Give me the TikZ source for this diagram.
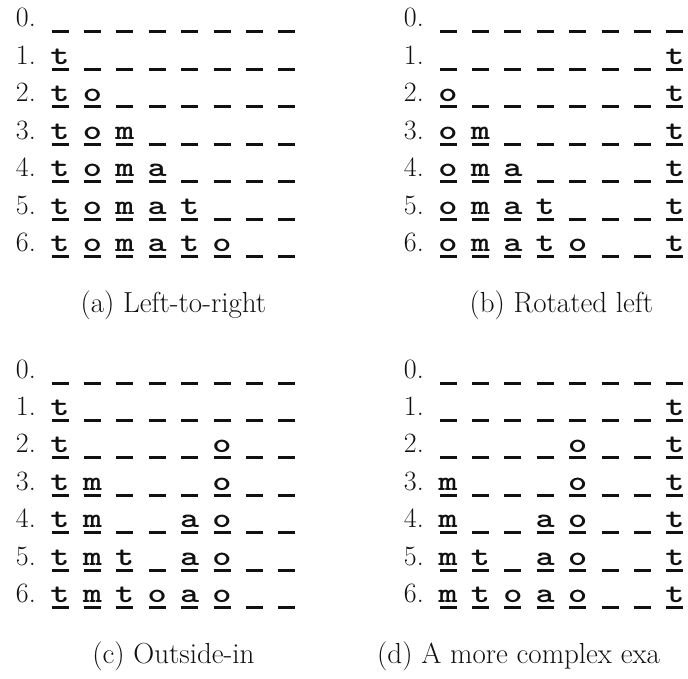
\documentclass[tikz,border=0pt]{standalone}
\usepackage{graphicx}
\usepackage{tikz}
\definecolor{ink}{HTML}{111111}
\tikzset{
  lbl/.style={anchor=base east, inner sep=0pt, font=\fontsize{28}{30}\selectfont, text=ink},
  ltr/.style={anchor=base, inner sep=0pt, font=\fontsize{28}{30}\selectfont\ttfamily\bfseries, text=ink},
  bar/.style={line width=3pt, draw=ink},
  subcap/.style={anchor=base, inner sep=0pt, font=\fontsize{29}{31}\selectfont, text=ink},
}
% #1 panel, #2 first slot centre, #3 bar height, #4 row number, #5 slots (- = empty)
\newcommand{\slotrow}[5]{%
  \node[lbl] (#1row#4) at (#2-24pt, #3+5pt) {#4.};
  \foreach \s [count=\i from 0] in {#5} {
    \draw[bar] (#2+\i*32.4pt-8.5pt, #3) -- ++(17pt,0);
    \if\s-\else\node[ltr] (#1s#4\i) at (#2+\i*32.4pt, #3+5pt) {\scalebox{1.3}[1]{\s}};\fi
  }
}

\begin{document}
\begin{tikzpicture}[x=1pt,y=1pt]
    \useasboundingbox (0,0) rectangle (688,-678);
    % (a) left-to-right
    \slotrow{a}{60pt}{-31.7pt}{0}{-,-,-,-,-,-,-,-}
    \slotrow{a}{60pt}{-69.2pt}{1}{t,-,-,-,-,-,-,-}
    \slotrow{a}{60pt}{-106.7pt}{2}{t,o,-,-,-,-,-,-}
    \slotrow{a}{60pt}{-144.2pt}{3}{t,o,m,-,-,-,-,-}
    \slotrow{a}{60pt}{-181.7pt}{4}{t,o,m,a,-,-,-,-}
    \slotrow{a}{60pt}{-219.2pt}{5}{t,o,m,a,t,-,-,-}
    \slotrow{a}{60pt}{-256.7pt}{6}{t,o,m,a,t,o,-,-}
    \node[subcap] (capa) at (173.4,-312) {(a) Left-to-right};
    % (b) rotated left
    \slotrow{b}{448pt}{-31.7pt}{0}{-,-,-,-,-,-,-,-}
    \slotrow{b}{448pt}{-69.2pt}{1}{-,-,-,-,-,-,-,t}
    \slotrow{b}{448pt}{-106.7pt}{2}{o,-,-,-,-,-,-,t}
    \slotrow{b}{448pt}{-144.2pt}{3}{o,m,-,-,-,-,-,t}
    \slotrow{b}{448pt}{-181.7pt}{4}{o,m,a,-,-,-,-,t}
    \slotrow{b}{448pt}{-219.2pt}{5}{o,m,a,t,-,-,-,t}
    \slotrow{b}{448pt}{-256.7pt}{6}{o,m,a,t,o,-,-,t}
    \node[subcap] (capb) at (561.4,-312) {(b) Rotated left};
    % (c) outside-in
    \slotrow{c}{60pt}{-383pt}{0}{-,-,-,-,-,-,-,-}
    \slotrow{c}{60pt}{-420.4pt}{1}{t,-,-,-,-,-,-,-}
    \slotrow{c}{60pt}{-457.8pt}{2}{t,-,-,-,-,o,-,-}
    \slotrow{c}{60pt}{-495.2pt}{3}{t,m,-,-,-,o,-,-}
    \slotrow{c}{60pt}{-532.6pt}{4}{t,m,-,-,a,o,-,-}
    \slotrow{c}{60pt}{-570pt}{5}{t,m,t,-,a,o,-,-}
    \slotrow{c}{60pt}{-607.4pt}{6}{t,m,t,o,a,o,-,-}
    \node[subcap] (capc) at (173.4,-663) {(c) Outside-in};
    % (d) more complex, cut at the right edge
    \slotrow{d}{448pt}{-383pt}{0}{-,-,-,-,-,-,-,-}
    \slotrow{d}{448pt}{-420.4pt}{1}{-,-,-,-,-,-,-,t}
    \slotrow{d}{448pt}{-457.8pt}{2}{-,-,-,-,o,-,-,t}
    \slotrow{d}{448pt}{-495.2pt}{3}{m,-,-,-,o,-,-,t}
    \slotrow{d}{448pt}{-532.6pt}{4}{m,-,-,a,o,-,-,t}
    \slotrow{d}{448pt}{-570pt}{5}{m,t,-,a,o,-,-,t}
    \slotrow{d}{448pt}{-607.4pt}{6}{m,t,o,a,o,-,-,t}
    \node[subcap, anchor=base west] (capd) at (377,-663) {(d) A more complex exa};
  \end{tikzpicture}
\end{document}
